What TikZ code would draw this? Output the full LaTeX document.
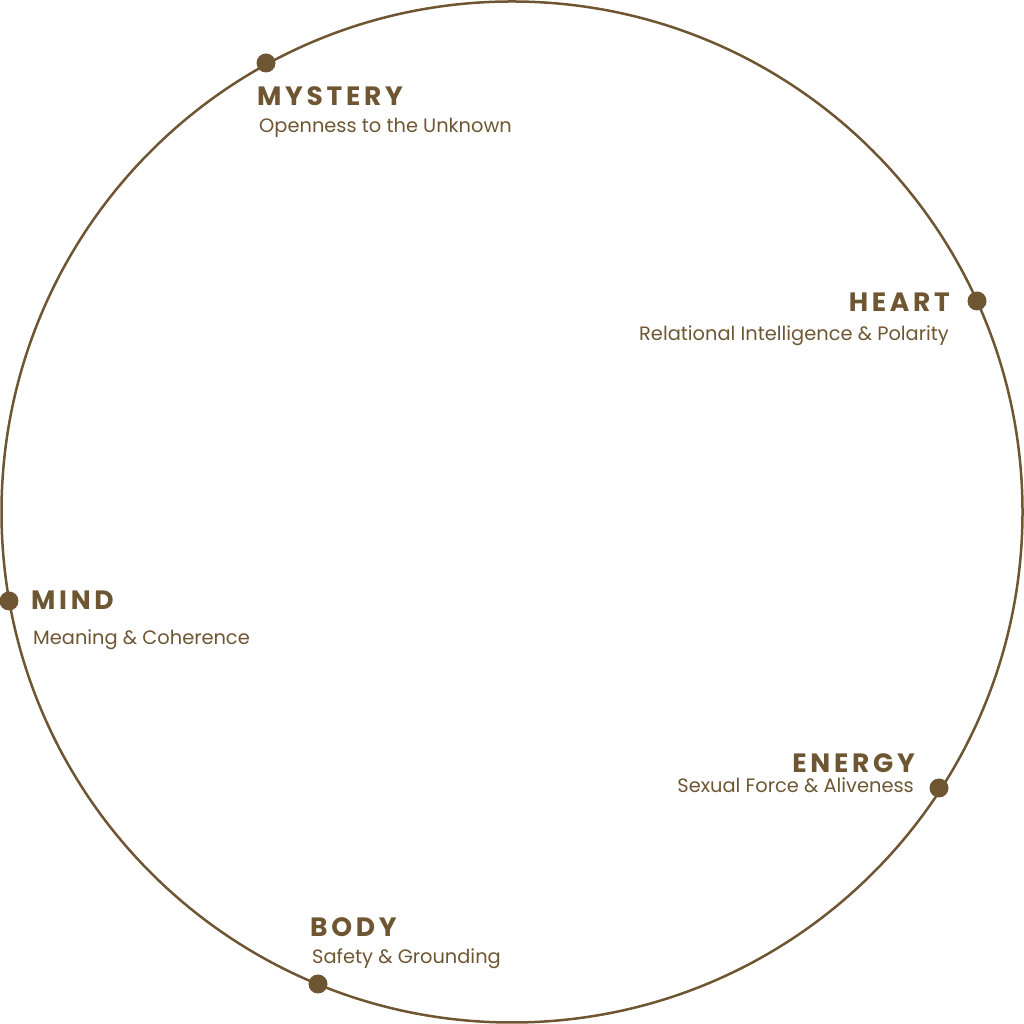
\documentclass[tikz,border=0pt]{standalone}
\usepackage{fontspec}
\setmainfont{Poppins}
\newfontfamily\titlefont[LetterSpace=14]{Poppins}
\usetikzlibrary{positioning}
\definecolor{bronze}{RGB}{110,86,50}

\begin{document}
\begin{tikzpicture}
		[x=1pt,y=1pt,
		dot/.style={circle,fill=bronze,inner sep=0pt,minimum size=19pt},
		title/.style={text=bronze,inner sep=0pt,font=\titlefont\bfseries\fontsize{26.5}{26.5}\selectfont},
		sub/.style={text=bronze,inner sep=0pt,font=\fontsize{19.4}{20}\selectfont}]
		
			\useasboundingbox (0,0) rectangle (1024,1024);
			\coordinate (c) at (512,512);
			\draw[bronze,line width=2.5pt] (c) circle (510.5);
			
			\node[dot](mystery) at (266,961) {};
			\node[dot](heart) at (977,723) {};
			\node[dot](mind) at (9,423) {};
			\node[dot](energy) at (939,236) {};
			\node[dot](body) at (318,40) {};
			
			\node[title, anchor=base west](mysteryt) at (257,918) {MYSTERY};
			\node[sub, anchor=base west](mysterys) at (259,891) {Openness to the Unknown};
			\node[title, anchor=base east](heartt) at (950,712) {HEART};
			\node[sub, anchor=base east](hearts) at (949,683) {Relational Intelligence \& Polarity};
			\node[title, anchor=base west](mindt) at (31,414) {MIND};
			\node[sub, anchor=base west](minds) at (33,379) {Meaning \& Coherence};
			\node[title, anchor=base east](energyt) at (915,251) {ENERGY};
			\node[sub, anchor=base east](energys) at (914,231) {Sexual Force \& Aliveness};
			\node[title, anchor=base west](bodyt) at (310,87) {BODY};
			\node[sub, anchor=base west](bodys) at (312,60) {Safety \& Grounding};

	\end{tikzpicture}
\end{document}
